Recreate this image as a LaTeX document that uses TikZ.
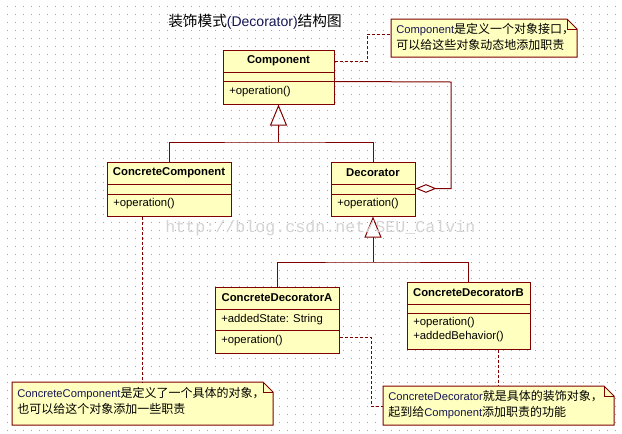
\documentclass[tikz,border=0pt]{standalone}
\usepackage{fontspec}
\setmainfont{Liberation Sans}
\newfontfamily\cjk{Noto Sans CJK SC}
\newfontfamily\wmfont{Liberation Mono}
\usetikzlibrary{fit,calc,arrows.meta}
\definecolor{umlred}{RGB}{128,0,0}
\definecolor{umlfill}{RGB}{255,255,192}
\definecolor{navy}{RGB}{22,22,84}
\definecolor{gridc}{RGB}{165,165,165}
\definecolor{wmc}{RGB}{212,212,212}
\tikzset{
 classbox/.style={draw=umlred, fill=umlfill, line width=0.75pt, inner sep=0pt},
 umlline/.style={draw=umlred, line width=0.75pt},
 dashline/.style={draw=umlred, line width=0.75pt, dash pattern=on 2.25pt off 1.5pt},
 notebox/.style={draw=umlred, fill=umlfill, line width=0.75pt, line join=miter},
 cname/.style={font=\fontsize{8.5}{10}\selectfont\bfseries, inner sep=0pt},
 member/.style={font=\fontsize{8.5}{10.5}\selectfont, inner sep=0pt, anchor=west, align=left},
 notetext/.style={font=\fontsize{8.4}{12}\selectfont, inner sep=0pt, anchor=west, align=left},
 gen/.style={umlline, -{Triangle[open, length=15.75pt, width=12.75pt, line width=0.75pt]}},
}
\newcommand\umlclass[7]{%
 \node[classbox, fit={(#2,#3) (#4,#5)}] (#1) {};
 \draw[umlline] (#2,#6) -- (#4,#6);
 \draw[umlline] (#2,#7) -- (#4,#7);
}
\newcommand\umlnote[5]{%
 \node[fit={(#2,#3) (#4,#5)}, inner sep=0pt] (#1) {};
 \draw[notebox] (#2,#3) -- (#4-10,#3) -- (#4,#3+10) -- (#4,#5) -- (#2,#5) -- cycle;
 \draw[umlline] (#4-10,#3) -- (#4-10,#3+10) -- (#4,#3+10);
}
\newcommand\zh[1]{{\cjk\fontsize{9}{12}\selectfont #1}}
\newcommand\la[1]{{\color{navy}#1}}
\begin{document}
\begin{tikzpicture}[x=0.75pt,y=-0.75pt]
\useasboundingbox (0,0) rectangle (622,433);
\fill[white] (0,0) rectangle (622,433);
\foreach \i in {0,...,76}{\foreach \j in {0,...,53}{\fill[gridc] (7+8*\i,6+8*\j) rectangle ++(1,1);}}

% title
\node[anchor=west, inner sep=0pt] (title) at (168,22)
 {{\cjk\fontsize{11}{13}\selectfont 装饰模式}{\fontsize{10.5}{13}\selectfont\color{navy}(Decorator)}{\cjk\fontsize{11}{13}\selectfont 结构图}};

% classes
\umlclass{comp}{223}{50}{334}{104}{72}{81}
\node[cname] (compn) at (278.5,61) {Component};
\node[member] (compo) at (229,92) {+operation()};

\umlclass{cc}{107}{162}{231}{216}{184}{194}
\node[cname] (ccn) at (169,173) {ConcreteComponent};
\node[member] (cco) at (113,204) {+operation()};

\umlclass{dec}{331}{162}{415}{216}{184}{194}
\node[cname] (decn) at (373,173) {Decorator};
\node[member] (deco) at (337,204) {+operation()};

\umlclass{cda}{215}{287}{339}{353}{309}{330}
\node[cname] (cdan) at (277,298) {ConcreteDecoratorA};
\node[member] (cdaa) at (221,320) {+addedState: String};
\node[member] (cdao) at (221,341) {+operation()};

\umlclass{cdb}{407}{282}{530}{349}{304}{313}
\node[cname] (cdbn) at (468.5,293) {ConcreteDecoratorB};
\node[member] (cdbo) at (413,330) {+operation()\\+addedBehavior()};

% generalization
\coordinate (j1) at (278.5,142);
\draw[umlline] (cc.north) |- (j1) -| (dec.north);
\draw[gen] (j1) -- (comp.south);
\coordinate (j2) at (373,262);
\draw[umlline] (cda.north) |- (j2) -| (cdb.north);
\draw[gen] (j2) -- (dec.south);

% aggregation
\coordinate (aggc) at (451,82);
\draw[umlline, {Diamond[fill=white, length=15.75pt, width=6.5pt, line width=0.75pt]}-]
 ($(dec.north east)+(0,27)$) -| (aggc) -- ($(comp.north east)+(0,32)$);

% notes
\umlnote{note1}{391}{19}{577}{57}
\node[notetext] (note1t) at (396,37) {\la{Component}\zh{是定义一个对象接口，}\\\zh{可以给这些对象动态地添加职责}};
\umlnote{note2}{12}{382}{273}{425}
\node[notetext] (note2t) at (17,401) {\la{ConcreteComponent}\zh{是定义了一个具体的对象，}\\\zh{也可以给这个对象添加一些职责}};
\umlnote{note3}{383}{386}{614}{425}
\node[notetext] (note3t) at (388,404.5) {\la{ConcreteDecorator}\zh{就是具体的装饰对象，}\\\zh{起到给}\la{Component}\zh{添加职责的功能}};

% note connectors
\coordinate (n1bend) at (367,34);
\draw[dashline] ($(comp.north east)+(0,12)$) -| (n1bend) -- (n1bend -| note1.west);
\coordinate (cct) at ($(cc.south west)+(36,0)$);
\draw[dashline] (cct) -- (cct |- note2.north);
\coordinate (cdat) at ($(cda.north east)+(0,51)$);
\coordinate (n3bend) at (371,406);
\draw[dashline] (cdat) -| (n3bend) -- (n3bend -| note3.west);
\coordinate (cdbb) at ($(cdb.south west)+(92,0)$);
\draw[dashline] (cdbb) -- (cdbb |- note3.north);

% watermark
\node[anchor=base west, inner sep=0pt, font=\wmfont\fontsize{12.5}{14}\selectfont, text=wmc] (wm) at (165,232) {http://blog.csdn.net/SEU\_Calvin};
\end{tikzpicture}
\end{document}
